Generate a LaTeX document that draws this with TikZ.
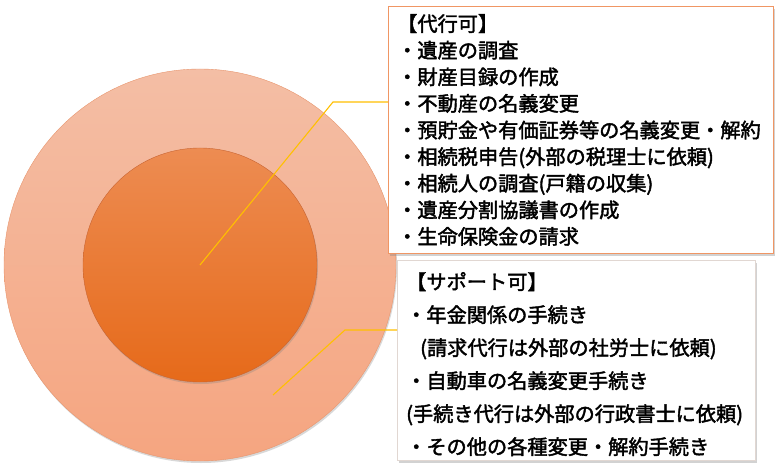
\documentclass[tikz,border=0pt]{standalone}
\usepackage{fontspec}
\newfontfamily\jp[FakeBold=2]{Noto Sans CJK JP}
\usetikzlibrary{shadows}
\definecolor{outerTop}{RGB}{244,190,165}
\definecolor{outerBot}{RGB}{245,165,128}
\definecolor{outerLine}{RGB}{232,150,110}
\definecolor{innerTop}{RGB}{237,140,82}
\definecolor{innerBot}{RGB}{230,106,26}
\definecolor{innerLine}{RGB}{200,100,50}
\definecolor{leadYellow}{RGB}{255,192,0}
\definecolor{boxOrange}{RGB}{240,150,100}
\definecolor{boxGray}{RGB}{225,215,210}

\begin{document}
\begin{tikzpicture}[x=1pt,y=-1pt]
\tikzstyle{disc}=[draw, shape=circle, shading=axis, drop shadow={opacity=0.3, shadow xshift=1pt, shadow yshift=-2pt}]
\tikzstyle{box}=[draw, fill=white, rectangle, anchor=north west, drop shadow={opacity=0.35, shadow xshift=2pt, shadow yshift=-3pt}]
\tikzstyle{list}=[anchor=north west, align=left, inner sep=0pt]
\tikzstyle{leader}=[draw=leadYellow, line width=1.1pt]
\useasboundingbox[fill=white] (0,0) rectangle (779,476);
\node at (200,265) [disc, minimum size=392pt, draw=outerLine, top color=outerTop, bottom color=outerBot] (outer) {};
\node at (200,265) [disc, minimum size=234pt, draw=innerLine, top color=innerTop, bottom color=innerBot] (inner) {};
\node at (388,6) [box, draw=boxOrange, minimum width=385pt, minimum height=247pt] (box1) {};
\node at (397,260) [box, draw=boxGray, minimum width=358pt, minimum height=200pt] (box2) {};
\node at (397,14) [list, font=\jp\fontsize{20.2}{26.6}\selectfont] (list1) {%
【代行可】\\
・遺産の調査\\
・財産目録の作成\\
・不動産の名義変更\\
・預貯金や有価証券等の名義変更・解約\\
・相続税申告(外部の税理士に依頼)\\
・相続人の調査(戸籍の収集)\\
・遺産分割協議書の作成\\
・生命保険金の請求};
\node at (406,272) [list, font=\jp\fontsize{20.2}{33}\selectfont] (list2) {%
【サポート可】\\
・年金関係の手続き\\
\hspace*{14pt}(請求代行は外部の社労士に依頼)\\
・自動車の名義変更手続き\\
(手続き代行は外部の行政書士に依頼)\\
・その他の各種変更・解約手続き};
\coordinate (k1) at (333,102);
\coordinate (k2) at (345,330);
\coordinate (k3) at (273,395);
\draw[leader] (inner.center) -- (k1) -- (k1 -| box1.west);
\draw[leader] (k3) -- (k2) -- (k2 -| box2.west);
\end{tikzpicture}
\end{document}
